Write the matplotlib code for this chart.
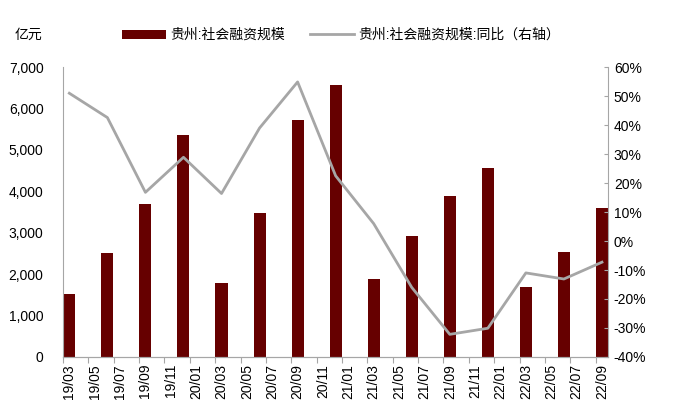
import numpy as np
import matplotlib.pyplot as plt
from matplotlib.ticker import FuncFormatter, MultipleLocator, FixedLocator

plt.rcParams['font.family'] = ['Liberation Sans', 'Noto Sans CJK SC']
plt.rcParams['font.size'] = 10

# quarterly data, month index counted from 2019-03
quarters = ['19/03', '19/06', '19/09', '19/12', '20/03', '20/06', '20/09', '20/12',
            '21/03', '21/06', '21/09', '21/12', '22/03', '22/06', '22/09']
month_idx = [0, 3, 6, 9, 12, 15, 18, 21, 24, 27, 30, 33, 36, 39, 42]
scale = [1530, 2500, 3700, 5350, 1780, 3480, 5720, 6560,
         1880, 2930, 3880, 4570, 1680, 2540, 3590]          # 亿元
yoy = [51.0, 42.6, 16.8, 28.9, 16.4, 39.0, 54.9, 22.5,
       6.0, -16.0, -32.2, -30.1, -11.0, -13.1, -7.3]       # %

tick_labels = ['19/03', '19/05', '19/07', '19/09', '19/11', '20/01', '20/03', '20/05',
               '20/07', '20/09', '20/11', '21/01', '21/03', '21/05', '21/07', '21/09',
               '21/11', '22/01', '22/03', '22/05', '22/07', '22/09']
tick_pos = list(range(0, 43, 2))

bar_color = '#660000'
line_color = '#A6A6A6'
spine_color = '#A6A6A6'

fig = plt.figure(figsize=(7, 4.07), dpi=100)
ax = fig.add_axes([0.09, 0.123, 0.779, 0.712])
ax2 = ax.twinx()

bars = ax.bar(month_idx, scale, width=0.95, color=bar_color, zorder=2)
line, = ax2.plot(month_idx, yoy, color=line_color, lw=2, zorder=3)

ax.set_zorder(ax2.get_zorder() - 1)
ax.patch.set_visible(False)
ax2.patch.set_visible(False)

ax.set_xlim(-0.5, 42.5)
ax.set_ylim(0, 7000)
ax.yaxis.set_major_locator(MultipleLocator(1000))
ax.yaxis.set_major_formatter(FuncFormatter(lambda v, p: f'{int(v):,}'))
ax2.set_ylim(-40, 60)
ax2.yaxis.set_major_locator(MultipleLocator(10))
ax2.yaxis.set_major_formatter(FuncFormatter(lambda v, p: f'{int(v)}%'))

# tick marks on the left edge of each two-month slot, labels in the middle
ax.xaxis.set_major_locator(FixedLocator([p - 0.5 for p in tick_pos]))
ax.xaxis.set_major_formatter(FuncFormatter(lambda v, p: ''))
ax.xaxis.set_minor_locator(FixedLocator(tick_pos))
ax.set_xticks(tick_pos, tick_labels, minor=True, rotation=90)

for a in (ax, ax2):
    for s in a.spines.values():
        s.set_color(spine_color)
    a.spines['top'].set_visible(False)
    a.tick_params(colors=spine_color, labelcolor='black', length=3, labelsize=10)
ax.spines['right'].set_visible(False)
ax2.spines['left'].set_visible(False)
ax.tick_params(axis='y', length=0, pad=14)
ax2.tick_params(axis='y', direction='in', length=3, pad=4)
ax.tick_params(axis='x', which='major', length=4)
ax.tick_params(axis='x', which='minor', length=0, pad=5)

fig.text(0.021, 0.914, '亿元', fontsize=10, va='center', ha='left')
fig.legend([bars, line], ['贵州:社会融资规模', '贵州:社会融资规模:同比（右轴）'],
           loc='center', bbox_to_anchor=(0.487, 0.914), ncol=2, frameon=False,
           handlelength=3.2, handleheight=0.6, columnspacing=1.8, handletextpad=0.3,
           fontsize=10)

fig.savefig('out.png', dpi=100)
